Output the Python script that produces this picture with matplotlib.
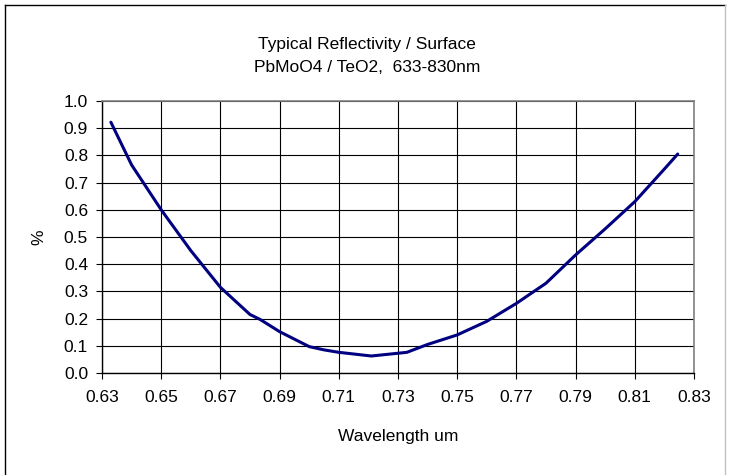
import numpy as np
import matplotlib.pyplot as plt
from matplotlib.lines import Line2D

plt.rcParams['font.family'] = ['Liberation Sans', 'DejaVu Sans']

# wavelength [um] and reflectivity [%]
wavelength = [0.633, 0.64, 0.65, 0.66, 0.67, 0.68, 0.6834, 0.69, 0.70, 0.705,
              0.71, 0.721, 0.733, 0.74, 0.75, 0.76, 0.77, 0.78, 0.79, 0.80,
              0.81, 0.82, 0.8245]
reflectivity = [0.922, 0.765, 0.600, 0.450, 0.315, 0.215, 0.197, 0.152, 0.097, 0.085,
                0.076, 0.0625, 0.076, 0.105, 0.140, 0.190, 0.256, 0.330, 0.434, 0.530,
                0.630, 0.750, 0.805]

x_ticks = np.round(np.arange(0.63, 0.8301, 0.02), 2)
y_ticks = np.round(np.arange(0.0, 1.001, 0.1), 1)

W, H = 729, 475
fig = plt.figure(figsize=(W / 100, H / 100), dpi=100)
ax = fig.add_axes([102 / W, 1 - 373 / H, (694 - 102) / W, (373 - 101) / H])

ax.plot(wavelength, reflectivity, color='#000080', lw=2.2, solid_capstyle='round', zorder=3)

ax.set_xlim(0.63, 0.83)
ax.set_ylim(0.0, 1.0)
ax.set_xticks(x_ticks)
ax.set_xticklabels([f'{t:.2f}' for t in x_ticks])
ax.set_yticks(y_ticks)
ax.set_yticklabels([f'{t:.1f}' for t in y_ticks])
ax.grid(True, color='black', lw=0.8)
ax.tick_params(direction='out', length=4, width=0.8, labelsize=12.5)
ax.tick_params(axis='x', pad=8)
ax.tick_params(axis='y', pad=6)

for side in ['top', 'right']:
    ax.spines[side].set_color('#808080')
    ax.spines[side].set_linewidth(1.2)
for side in ['left', 'bottom']:
    ax.spines[side].set_color('black')
    ax.spines[side].set_linewidth(1.0)

fig.text(398 / W, 1 - 436 / H, 'Wavelength um', ha='center', va='center', fontsize=12.5)
fig.text(39 / W, 1 - 237 / H, '%', ha='center', va='center', rotation=90, fontsize=12.5)

fig.text(367 / W, 1 - 44 / H, 'Typical Reflectivity / Surface', ha='center', va='center', fontsize=12.5)
fig.text(367 / W, 1 - 67 / H, 'PbMoO4 / TeO2,  633-830nm', ha='center', va='center', fontsize=12.5)

# outer chart border
fig.add_artist(Line2D([5 / W, 5 / W], [0, 1 - 5 / H], color='black', lw=1))
fig.add_artist(Line2D([5 / W, 725 / W], [1 - 5 / H, 1 - 5 / H], color='black', lw=1))
fig.add_artist(Line2D([725 / W, 725 / W], [0, 1 - 5 / H], color='#c0c0c0', lw=1))

fig.savefig('out.png', dpi=100)
